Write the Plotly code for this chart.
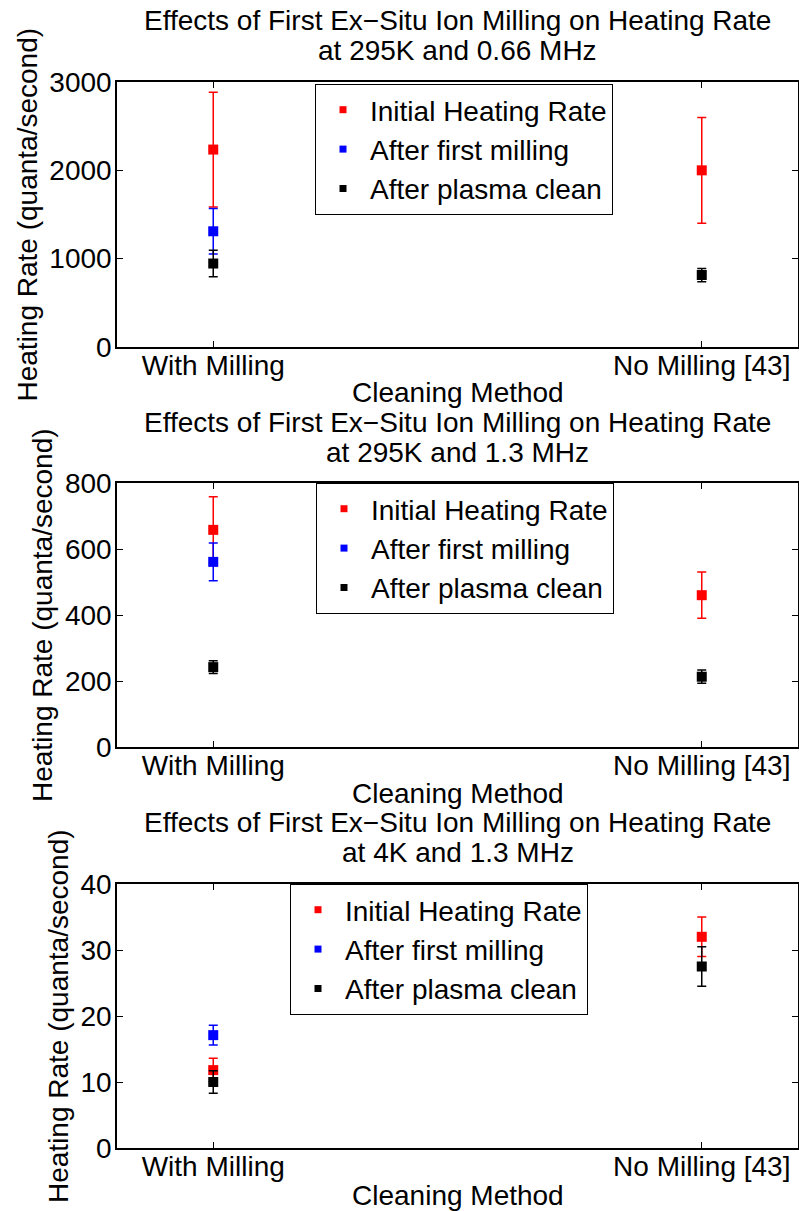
import plotly.graph_objects as go

# ---------------- data ----------------
categories = ["With Milling", "No Milling [43]"]
series_names = ["Initial Heating Rate", "After first milling", "After plasma clean"]
series_colors = ["#ff0000", "#0000ff", "#000000"]

# Panel 1: 295K, 0.66 MHz
p1_initial = [2235, 2000]
p1_initial_err = [650, 598]
p1_milling = [1310, None]
p1_milling_err = [257, 0]
p1_plasma = [945, 815]
p1_plasma_err = [150, 75]

# Panel 2: 295K, 1.3 MHz
p2_initial = [658, 460]
p2_initial_err = [100, 70]
p2_milling = [561, None]
p2_milling_err = [57, 0]
p2_plasma = [242, 213]
p2_plasma_err = [19, 20]

# Panel 3: 4K, 1.3 MHz
p3_initial = [11.8, 32.0]
p3_initial_err = [1.8, 3.0]
p3_milling = [17.1, None]
p3_milling_err = [1.5, 0]
p3_plasma = [10.0, 27.5]
p3_plasma_err = [1.7, 3.0]

titles_line1 = ["Effects of First Ex\u2212Situ Ion Milling on Heating Rate"] * 3
titles_line2 = ["at 295K and 0.66 MHz", "at 295K and 1.3 MHz", "at 4K and 1.3 MHz"]
y_ranges = [[0, 3000], [0, 800], [0, 40]]
y_dticks = [1000, 200, 10]
x_title = "Cleaning Method"
y_title = "Heating Rate (quanta/second)"

panels = [
    [(p1_initial, p1_initial_err), (p1_milling, p1_milling_err), (p1_plasma, p1_plasma_err)],
    [(p2_initial, p2_initial_err), (p2_milling, p2_milling_err), (p2_plasma, p2_plasma_err)],
    [(p3_initial, p3_initial_err), (p3_milling, p3_milling_err), (p3_plasma, p3_plasma_err)],
]

# ---------------- layout geometry (pixels) ----------------
W, H = 799, 1211
FONT = "Liberation Sans, Arial, sans-serif"
FS = 28
plot_left, plot_right = 117, 798
plot_tops = [82, 483, 884]
plot_bottoms = [347, 747, 1148]
title_y1 = [20, 422, 822]
title_y2 = [50, 452, 852]
xtitle_y = [393, 793, 1195]
ytitle_x = [27, 43, 58]
legend_pos = [(315, 84), (316, 483), (290, 884)]

def px(xp):
    return xp / W

def py(yp):
    return 1 - yp / H

fig = go.Figure()
layout = dict(
    template="none",
    width=W, height=H,
    margin=dict(l=0, r=0, t=0, b=0, autoexpand=False),
    paper_bgcolor="white", plot_bgcolor="white",
    font=dict(family=FONT, size=FS, color="black"),
    showlegend=True,
)
annotations = []

for i, panel in enumerate(panels):
    n = "" if i == 0 else str(i + 1)
    xa, ya = "x" + n, "y" + n
    leg = "legend" + n
    for (vals, errs), name, col in zip(panel, series_names, series_colors):
        fig.add_trace(go.Scatter(
            x=categories, y=vals, mode="markers", name=name,
            xaxis=xa, yaxis=ya, showlegend=False,
            marker=dict(symbol="square", size=10, color=col),
            error_y=dict(type="data", array=errs, visible=True,
                         color=col, thickness=1.5, width=4.5),
        ))
    for name, col in zip(series_names, series_colors):
        fig.add_trace(go.Scatter(
            x=[None], y=[None], mode="markers", name=name,
            xaxis=xa, yaxis=ya, legend=leg, showlegend=True,
            marker=dict(symbol="square", size=7, color=col),
        ))
    axis_common = dict(
        showline=True, linecolor="black", linewidth=1.5, mirror="ticks",
        ticks="inside", ticklen=6, tickwidth=1, tickcolor="black",
        showgrid=False, zeroline=False, automargin=False,
        tickfont=dict(family=FONT, size=FS, color="black"),
    )
    layout["xaxis" + n] = dict(
        domain=[px(plot_left), px(plot_right)], anchor=ya,
        type="category", range=[-0.197, 1.197], ticklabelstandoff=-7,
        **axis_common,
    )
    layout["yaxis" + n] = dict(
        domain=[py(plot_bottoms[i]), py(plot_tops[i])], anchor=xa,
        range=y_ranges[i], dtick=y_dticks[i], ticklabelstandoff=-2,
        **axis_common,
    )
    lx, ly = legend_pos[i]
    layout[leg] = dict(
        x=px(lx), y=py(ly), xanchor="left", yanchor="top",
        xref="paper", yref="paper",
        bgcolor="white", bordercolor="black", borderwidth=1,
        font=dict(family=FONT, size=FS, color="black"),
        tracegroupgap=0, itemwidth=44,
    )
    cx = px((plot_left + plot_right) / 2)
    annotations.append(dict(text=titles_line1[i], x=cx, y=py(title_y1[i]),
                            xref="paper", yref="paper", showarrow=False,
                            xanchor="center", yanchor="middle",
                            font=dict(family=FONT, size=FS)))
    annotations.append(dict(text=titles_line2[i], x=cx, y=py(title_y2[i]),
                            xref="paper", yref="paper", showarrow=False,
                            xanchor="center", yanchor="middle",
                            font=dict(family=FONT, size=FS)))
    annotations.append(dict(text=x_title, x=cx, y=py(xtitle_y[i]),
                            xref="paper", yref="paper", showarrow=False,
                            xanchor="center", yanchor="middle",
                            font=dict(family=FONT, size=FS)))
    annotations.append(dict(text=y_title, x=px(ytitle_x[i]),
                            y=py((plot_tops[i] + plot_bottoms[i]) / 2),
                            xref="paper", yref="paper", showarrow=False,
                            xanchor="center", yanchor="middle", textangle=-90,
                            font=dict(family=FONT, size=FS)))

layout["annotations"] = annotations
fig.update_layout(**layout)
fig.write_html(
    "out.html",
    config={"displayModeBar": False},
    post_script="document.body.style.margin='0';document.body.style.overflow='hidden';",
)
